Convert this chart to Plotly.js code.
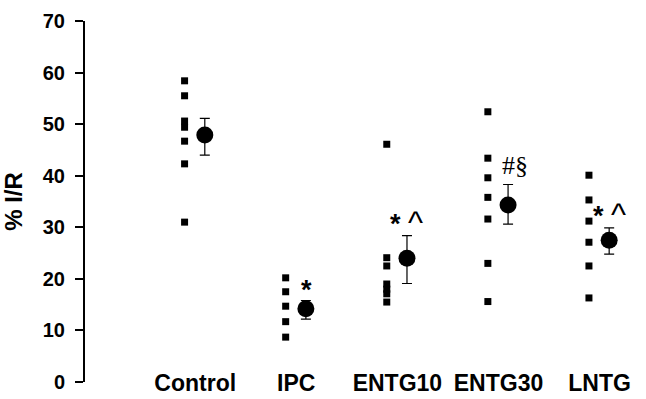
<!DOCTYPE html>
<html>
<head>
<meta charset="utf-8">
<script src="https://cdn.plot.ly/plotly-3.0.1.min.js"></script>
<style>html,body{margin:0;padding:0;background:#fff;}#chart{width:646px;height:399px;}</style>
</head>
<body>
<div id="chart"></div>
<script>
// ---- data ----
const categories = ['Control', 'IPC', 'ENTG10', 'ENTG30', 'LNTG'];
const controlVals = [58.4, 55.5, 50.6, 49.4, 46.7, 42.3, 31.0];
const ipcVals = [20.2, 17.5, 14.7, 11.7, 8.7];
const entg10Vals = [46.1, 24.1, 22.5, 19.0, 18.0, 17.1, 15.5];
const entg30Vals = [52.4, 43.4, 39.6, 35.8, 31.6, 23.0, 15.6];
const lntgVals = [40.1, 35.3, 31.2, 27.1, 22.5, 16.3];
const means = [47.9, 14.2, 24.0, 34.3, 27.5];
const errUp = [3.2, 1.6, 4.4, 4.0, 2.4];
const errDown = [3.9, 2.0, 4.9, 3.7, 2.7];
const sigLabels = ['', '*', '* ^', '#§', '* ^'];
const yTicks = [0, 10, 20, 30, 40, 50, 60, 70];

// ---- build traces ----
const groups = [controlVals, ipcVals, entg10Vals, entg30Vals, lntgVals];
const pos = categories.map((c, i) => i + 1);
const dotX = [], dotY = [];
groups.forEach((g, i) => g.forEach(v => { dotX.push(pos[i] - 0.105); dotY.push(v); }));

const traces = [
  {
    type: 'scatter', mode: 'markers', x: dotX, y: dotY,
    marker: {symbol: 'square', size: 7, color: '#000'},
    hoverinfo: 'skip', showlegend: false
  },
  {
    type: 'scatter', mode: 'markers', x: pos.map(p => p + 0.095), y: means,
    marker: {symbol: 'circle', size: 17, color: '#000'},
    error_y: {type: 'data', symmetric: false, array: errUp, arrayminus: errDown,
              color: '#000', thickness: 1.2, width: 5},
    hoverinfo: 'skip', showlegend: false
  }
];

const annFont = {family: 'Liberation Sans, Arial, sans-serif', size: 27, color: '#000'};
const annotations = [];
sigLabels.forEach((s, i) => {
  if (!s) return;
  const isSerif = s.indexOf('#') >= 0;
  let txt = s;
  if (!isSerif) {
    txt = s.split(' ').map(t => t === '*' ? '<b>*</b>' : '<span style="font-size:32px">' + t + '</span>').join(' ');
  }
  annotations.push({
    x: pos[i] + 0.095, y: means[i] + errUp[i], xref: 'x', yref: 'y',
    text: txt, showarrow: false, xanchor: 'center', yanchor: 'bottom',
    xshift: isSerif ? 7 : (txt.indexOf('span') >= 0 ? 0 : 1), yshift: isSerif ? 2 : -6,
    font: isSerif ? {family: 'Liberation Serif, Times New Roman, serif', size: 26, color: '#000'} : annFont
  });
});

const layout = {
  width: 646, height: 399,
  margin: {l: 85, r: 6, t: 21, b: 17},
  paper_bgcolor: '#fff', plot_bgcolor: '#fff',
  showlegend: false,
  xaxis: {
    range: [-0.09, 5.4], showgrid: false, zeroline: false, showline: false,
    ticks: '', tickvals: pos, ticktext: categories,
    tickfont: {family: 'Liberation Sans, Arial, sans-serif', size: 23, color: '#000', weight: 'bold'},
    ticklabelstandoff: -15
  },
  yaxis: {
    range: [0, 70], showgrid: false, zeroline: false,
    showline: true, linecolor: '#000', linewidth: 2,
    ticks: 'outside', ticklen: 8, tickwidth: 2, tickcolor: '#000',
    tickvals: yTicks, ticktext: yTicks.map(String),
    tickfont: {family: 'Liberation Sans, Arial, sans-serif', size: 20, color: '#000', weight: 'bold'},
    ticklabelstandoff: 6,
    title: {text: '% I/R', standoff: 14,
            font: {family: 'Liberation Sans, Arial, sans-serif', size: 24, color: '#000', weight: 'bold'}}
  },
  annotations: annotations
};

Plotly.newPlot('chart', traces, layout, {staticPlot: true, displayModeBar: false});
</script>
</body>
</html>
